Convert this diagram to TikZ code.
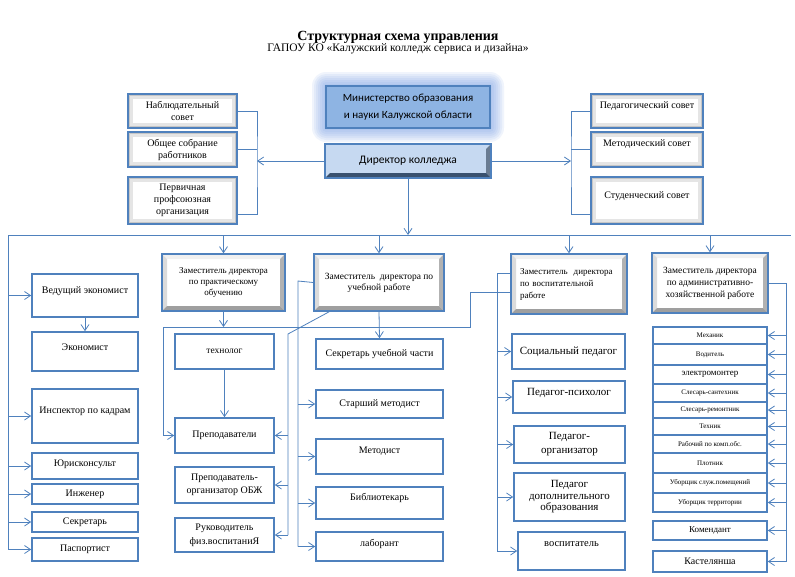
\documentclass[tikz,border=0pt]{standalone}
\usepackage{fontspec}
\setmainfont{Liberation Serif}
\newfontfamily\calibri{Carlito}
\usetikzlibrary{arrows.meta}

\definecolor{lineblue}{RGB}{79,129,189}
\definecolor{darkblue}{RGB}{56,80,110}
\definecolor{minblue}{RGB}{142,180,227}
\definecolor{dirblue}{RGB}{198,217,241}
\definecolor{glowblue}{RGB}{120,160,230}

\newcommand{\ppbb}{path picture bounding box}

\tikzset{
  fs/.style 2 args={font=\fontsize{#1}{#2}\selectfont},
  wh/.style 2 args={minimum width=#1pt, minimum height=#2pt},
  lift/.style={text depth=#1},
  unitbox/.style={draw=lineblue, line width=1.6pt, fill=white, align=center,
    inner sep=1pt, fs={10}{12}},
  shadebox/.style={unitbox, path picture={
    \draw[gray!20, line width=10pt] (\ppbb.south west) rectangle (\ppbb.north east);
    \draw[gray!45, line width=4pt] (\ppbb.south west) rectangle (\ppbb.north east);
  }},
  bevelbox/.style={unitbox, line width=1.4pt, path picture={
    \fill[gray!12] (\ppbb.north west) -- (\ppbb.north east) -- ([shift={(-5pt,-5pt)}]\ppbb.north east)
      -- ([shift={(5pt,-5pt)}]\ppbb.north west) -- cycle;
    \fill[gray!28] (\ppbb.north west) -- ([shift={(5pt,-5pt)}]\ppbb.north west)
      -- ([shift={(5pt,5pt)}]\ppbb.south west) -- (\ppbb.south west) -- cycle;
    \fill[gray!60] (\ppbb.north east) -- ([shift={(-5pt,-5pt)}]\ppbb.north east)
      -- ([shift={(-5pt,5pt)}]\ppbb.south east) -- (\ppbb.south east) -- cycle;
    \fill[gray!75] (\ppbb.south west) -- ([shift={(5pt,5pt)}]\ppbb.south west)
      -- ([shift={(-5pt,5pt)}]\ppbb.south east) -- (\ppbb.south east) -- cycle;
  }},
  headbox/.style={unitbox, fill=dirblue, path picture={
    \fill[darkblue!75] (\ppbb.north east) -- ([shift={(-5pt,-5pt)}]\ppbb.north east)
      -- ([shift={(-5pt,5pt)}]\ppbb.south east) -- (\ppbb.south east) -- cycle;
    \fill[darkblue] (\ppbb.south west) -- ([shift={(5pt,5pt)}]\ppbb.south west)
      -- ([shift={(-5pt,5pt)}]\ppbb.south east) -- (\ppbb.south east) -- cycle;
  }},
  wire/.style={draw=lineblue, line width=0.8pt},
  arr/.style={wire, -{Straight Barb[length=6pt,width=8pt]}},
}

\begin{document}
\begin{tikzpicture}[x=1pt, y=-1pt]
\useasboundingbox (0,0) rectangle (795,576);
\fill[white] (0,0) rectangle (795,576);

% titles
\node[font=\fontsize{14}{16}\selectfont\bfseries] (title) at (398,37) {Структурная схема управления};
\node[fs={11.5}{13}] (subtitle) at (398,49) {ГАПОУ КО «Калужский колледж сервиса и дизайна»};

% glow round the ministry
\foreach \g in {2,4,...,14}
  \fill[glowblue, opacity=0.11, rounded corners=\g pt] (326-\g,86-\g) rectangle (490+\g,128+\g);

\node[unitbox, fill=minblue, wh={164}{42}, font=\calibri\fontsize{11}{17}\selectfont] (min) at (408,107)
  {Министерство образования\\и науки Калужской области};
\node[headbox, wh={166}{34}, font=\calibri\fontsize{11.5}{14}\selectfont] (dir) at (408,161) {Директор колледжа};

% councils
\node[shadebox, wh={109}{34}] (nab) at (182.5,111) {Наблюдательный\\совет};
\node[shadebox, wh={109}{35}] (obsh) at (182.5,149.5) {Общее собрание\\работников};
\node[shadebox, wh={109}{47}] (perv) at (182.5,200.5) {Первичная\\профсоюзная\\организация};
\node[shadebox, wh={112}{34}, lift=12pt] (ped) at (647,111) {Педагогический совет};
\node[shadebox, wh={112}{35}, lift=13pt] (msov) at (647,149.5) {Методический совет};
\node[shadebox, wh={112}{47}, lift=11pt] (stud) at (647,200.5) {Студенческий совет};

% deputies
\node[bevelbox, wh={123}{57}, fs={9}{11}] (zp) at (223.5,282.5) {Заместитель директора\\по практическому\\обучению};
\node[bevelbox, wh={130}{57}, fs={9.5}{11}] (zu) at (379,282.5) {Заместитель \ директора по\\учебной работе};
\node[bevelbox, wh={116}{60}, fs={9}{12}, align=left, text width=98pt] (zv) at (569,284)
  {Заместитель \ директора\\по воспитательной\\работе};
\node[bevelbox, wh={116}{60}, fs={9.5}{12}] (za) at (710,283) {Заместитель директора\\по административно-\\хозяйственной работе};

% left column
\node[unitbox, wh={106}{43}, lift=11pt] (ve) at (85,295.5) {Ведущий экономист};
\node[unitbox, wh={106}{39}, lift=9pt] (ek) at (85,351.5) {Экономист};
\node[unitbox, wh={106}{54}, lift=12pt] (ins) at (85,416) {Инспектор по кадрам};
\node[unitbox, wh={106}{26}, lift=6pt] (yur) at (85,466) {Юрисконсульт};
\node[unitbox, wh={106}{20}] (inzh) at (85,494) {Инженер};
\node[unitbox, wh={106}{20}] (sekr) at (85,522) {Секретарь};
\node[unitbox, wh={106}{23}] (pasp) at (85,549.5) {Паспортист};

% practical training
\node[unitbox, wh={99}{35}, fs={9.5}{12}] (tech) at (224.5,351.5) {технолог};
\node[unitbox, wh={99}{35}] (prep) at (224.5,435.5) {Преподаватели};
\node[unitbox, wh={99}{36}, fs={10}{12.5}] (obzh) at (224.5,485) {Преподаватель-\\организатор ОБЖ};
\node[unitbox, wh={99}{34}, fs={10}{14}] (ruk) at (224.5,535) {Руководитель\\физ.воспитаниЯ};

% teaching
\node[unitbox, wh={127}{30}] (sch) at (379.5,354) {Секретарь учебной части};
\node[unitbox, wh={127}{28}] (stm) at (379.5,404) {Старший методист};
\node[unitbox, wh={127}{35}, lift=13pt] (met) at (379.5,456.5) {Методист};
\node[unitbox, wh={127}{32}, lift=12pt] (bib) at (379.5,503) {Библиотекарь};
\node[unitbox, wh={127}{29}, lift=7pt] (lab) at (379.5,546.5) {лаборант};

% upbringing
\node[unitbox, wh={113}{35}, fs={11}{13}] (sp) at (568.5,351.5) {Социальный педагог};
\node[unitbox, wh={112}{32}, fs={11}{13}, lift=10pt] (pp) at (569,397) {Педагог-психолог};
\node[unitbox, wh={111}{37}, fs={11}{14}] (po) at (569.5,444.5) {Педагог-\\организатор};
\node[unitbox, wh={111}{48}, fs={11}{11.5}] (pd) at (569.5,497) {Педагог\\дополнительного\\образования};
\node[unitbox, wh={107}{38}, fs={10.5}{12}, lift=14pt] (vosp) at (571.5,551) {воспитатель};

% maintenance
\node[unitbox, wh={114}{17}, fs={7}{8}] (mekh) at (710,335.5) {Механик};
\node[unitbox, wh={114}{21}, fs={7}{8}] (vod) at (710,354.5) {Водитель};
\node[unitbox, wh={114}{19}, fs={9}{10}] (elm) at (710,374.5) {электромонтер};
\node[unitbox, wh={114}{18}, fs={7}{8}] (ssan) at (710,393) {Слесарь-сантехник};
\node[unitbox, wh={114}{16}, fs={7}{8}] (srem) at (710,410) {Слесарь-ремонтник};
\node[unitbox, wh={114}{17}, fs={7}{8}] (tekh) at (710,426.5) {Техник};
\node[unitbox, wh={114}{18}, fs={7}{8}] (rab) at (710,444) {Рабочий по комп.обс.};
\node[unitbox, wh={114}{20}, fs={7}{8}] (plot) at (710,463) {Плотник};
\node[unitbox, wh={114}{20}, fs={7}{8}] (ubs) at (710,483) {Уборщик служ.помещений};
\node[unitbox, wh={114}{19}, fs={7}{8}] (ubt) at (710,502.5) {Уборщик территории};
\node[unitbox, wh={114}{19}, fs={9}{10}] (kom) at (710,530.5) {Комендант};
\node[unitbox, wh={114}{21}] (kas) at (710,561.5) {Кастелянша};

% bus lines
\coordinate (brl) at (257,161);
\coordinate (brr) at (571,161);
\coordinate (lbus) at (8,235);
\coordinate (rbus) at (791,235);
\coordinate (tie) at (470,327);
\coordinate (pbus) at (163,327);
\coordinate (dbus) at (288,334);
\coordinate (ubus) at (298,281);
\coordinate (vbus) at (497,273);
\coordinate (abus) at (786,281);

\draw[wire] (nab.east) -| (brl) |- ([yshift=-13.5pt]perv.east);
\draw[wire] (obsh.east) -- (obsh.east -| brl);
\draw[arr] (dir.west) -- (brl);
\draw[wire] (ped.west) -| (brr) |- ([yshift=-13.5pt]stud.west);
\draw[wire] (msov.west) -- (msov.west -| brr);
\draw[arr] (dir.east) -- (brr);

\draw[arr] (dir.south) -- (dir.south |- lbus);
\draw[wire] (lbus) -- (rbus);
\foreach \n in {zp,zu,zv,za}
  \draw[arr] (\n.north |- lbus) -- (\n.north);

\draw[wire] (lbus) -- (lbus |- pasp.west);
\foreach \n in {ve,ins,yur,inzh,sekr,pasp}
  \draw[arr] (lbus |- \n.west) -- (\n.west);
\draw[arr] (ve.south) -- (ek.north);

\draw[arr] (zp.south) -- (zp.south |- tie);
\draw[arr] ([yshift=-8pt]zv.west) -| (tie) -- (pbus) |- (prep.west);
\draw[arr] (tech.south) -- (prep.north);

\draw[arr] (zu.south) -- (sch.north);
\draw[wire] (zu.west) -- (ubus) -- (ubus |- lab.west);
\foreach \n in {stm,met,bib,lab}
  \draw[arr] (ubus |- \n.west) -- (\n.west);
\draw[wire] ([xshift=16pt]zu.south west) -- (dbus) -- (dbus |- ruk.east);
\foreach \n in {prep,obzh,ruk}
  \draw[arr] (dbus |- \n.east) -- (\n.east);

\draw[wire] ([yshift=11pt]zv.west) -- (vbus) -- (vbus |- vosp.west);
\foreach \n in {sp,pp,po,pd,vosp}
  \draw[arr] (vbus |- \n.west) -- (\n.west);

\draw[wire] (za.east) -| (abus |- kas.east);
\foreach \n in {mekh,vod,elm,ssan,srem,tekh,rab,plot,ubs,ubt,kom,kas}
  \draw[arr] (abus |- \n.east) -- (\n.east);

\end{tikzpicture}
\end{document}
